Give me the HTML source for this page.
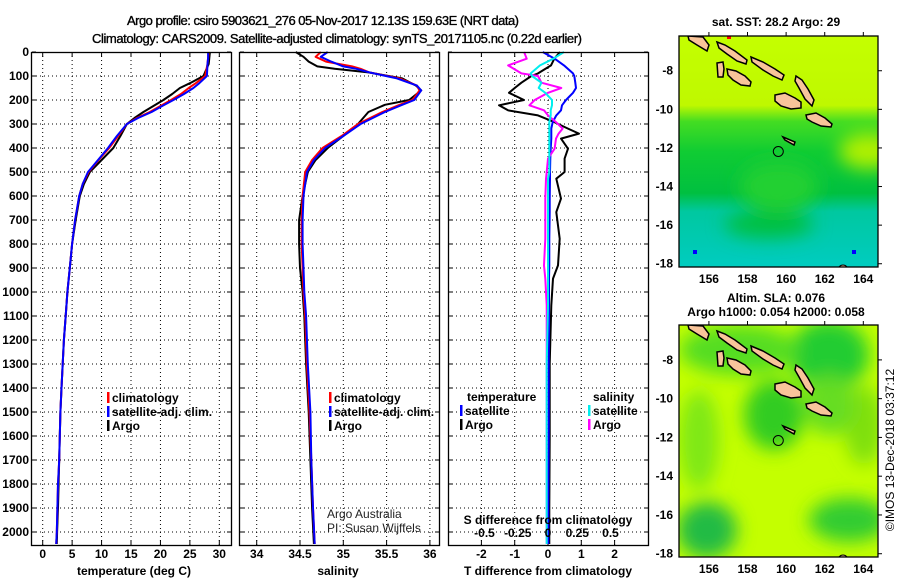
<!DOCTYPE html>
<html><head><meta charset="utf-8"><style>
body{margin:0;background:#fff;}
svg{display:block;font-family:"Liberation Sans",sans-serif;}
.b{font-weight:bold;font-size:12px;}
.tt{font-size:13px;stroke:#000;stroke-width:0.35;}
</style></head><body>
<svg id="c" width="900" height="580" viewBox="0 0 900 580">
<defs>
<linearGradient id="sstg" x1="0" y1="0" x2="0" y2="1">
<stop offset="0" stop-color="#c4ff00"/><stop offset="0.3" stop-color="#bff800"/>
<stop offset="0.37" stop-color="#44dd22"/><stop offset="0.5" stop-color="#10cc33"/>
<stop offset="0.68" stop-color="#00c040"/><stop offset="0.76" stop-color="#00c8a0"/>
<stop offset="1" stop-color="#00ccc0"/></linearGradient>
<filter id="bl" x="-50%" y="-50%" width="200%" height="200%"><feGaussianBlur stdDeviation="9"/></filter>
<clipPath id="m1c"><rect x="679" y="36" width="199" height="231"/></clipPath>
<clipPath id="m2c"><rect x="679" y="325" width="199" height="232"/></clipPath>
</defs>
<text x="323" y="25" text-anchor="middle" class="tt" textLength="392">Argo profile: csiro 5903621_276 05-Nov-2017 12.13S 159.63E (NRT data)</text>
<text x="337" y="43" text-anchor="middle" class="tt" textLength="490">Climatology: CARS2009. Satellite-adjusted climatology: synTS_20171105.nc (0.22d earlier)</text>
<g id="g"></g>
</svg>
<script>
// ---- data ----
const tDepth = [0,25,50,100,130,150,175,200,225,250,275,300,350,400,450,500,550,600,700,800,900,1000,1100,1200,1300,1400,1500,1600,1700,1800,1900,2000,2050];
const tArgo  = [28.4,28.3,28.2,27.3,25.0,23.3,22.0,20.5,18.8,17.1,15.6,14.3,13.2,12.0,10.0,8.0,7.0,6.3,5.6,5.0,4.6,4.2,3.9,3.6,3.4,3.2,3.0,2.9,2.8,2.7,2.6,2.45,2.4];
const tClim  = [28.2,28.1,28.0,27.6,26.0,24.8,23.5,21.8,20.0,18.2,16.0,14.3,12.8,11.3,9.5,7.8,6.8,6.2,5.5,5.0,4.6,4.2,3.9,3.6,3.4,3.2,3.0,2.9,2.8,2.6,2.5,2.4,2.3];
const tSat   = [28.1,28.1,28.0,27.9,26.6,25.6,24.0,22.2,20.3,18.5,16.2,14.3,12.6,11.1,9.4,7.7,6.8,6.2,5.5,5.0,4.6,4.2,3.9,3.6,3.4,3.2,3.0,2.9,2.8,2.6,2.5,2.4,2.3];
const sDepth = [0,20,40,60,70,85,110,140,160,200,220,250,300,350,400,450,500,600,700,800,900,1000,1100,1300,1500,1700,1900,2050];
const sArgo  = [34.45,34.54,34.6,34.7,34.9,35.29,35.68,35.84,35.9,35.76,35.48,35.29,35.17,35.0,34.82,34.68,34.59,34.53,34.49,34.49,34.5,34.53,34.55,34.57,34.6,34.62,34.64,34.66];
const sClim  = [34.74,34.68,34.8,35.1,35.2,35.3,35.65,35.85,35.88,35.8,35.65,35.45,35.17,34.98,34.76,34.64,34.56,34.53,34.52,34.52,34.53,34.54,34.56,34.58,34.61,34.63,34.65,34.67];
const sSat   = [34.82,34.74,34.86,35.0,35.15,35.3,35.62,35.85,35.9,35.82,35.68,35.48,35.2,35.0,34.79,34.66,34.58,34.54,34.53,34.53,34.54,34.55,34.57,34.59,34.62,34.63,34.65,34.67];
const dDepth = [0,28,56,89,100,128,150,170,200,222,243,264,292,319,340,361,403,444,500,528,611,667,778,889,944,1056,1300,1600,1900,2050];
const dTArgo = [0.36,0.19,0.09,-0.3,-0.5,-0.8,-1.0,-1.17,-0.72,-1.47,-1.2,-0.3,0.19,0.6,0.93,0.39,0.6,0.5,0.5,0.25,0.39,0.25,0.35,0.3,0.15,0.1,0.05,0.05,0.04,0.04];
const dTSat  = [-0.16,0.2,0.48,0.75,0.79,0.82,0.84,0.75,0.54,0.42,0.39,0.25,0.14,0.1,0.1,0.1,0.08,0.07,0.06,0.06,0.05,0.05,0.04,0.04,0.03,0.03,0.02,0.02,0.01,0.01];
const dSArgo = [-0.18,-0.16,-0.3,-0.2,-0.075,-0.05,0.1,0.0,-0.1,-0.14,-0.03,0.0,0.06,0.11,0.08,0.06,0.05,0.0,-0.01,-0.015,-0.02,-0.02,-0.02,-0.03,-0.02,-0.01,-0.01,-0.01,-0.01,-0.01];
const dSSat  = [0.12,0.04,-0.06,-0.13,-0.12,-0.05,-0.07,-0.02,0.03,0.03,0.02,0.02,0.01,0.01,0.01,0.01,0.01,0.01,0.01,0.0,0.0,0.0,0.0,0.0,0.0,0.0,-0.01,-0.01,-0.01,-0.01];
const depthTicks = [0,100,200,300,400,500,600,700,800,900,1000,1100,1200,1300,1400,1500,1600,1700,1800,1900,2000];
const tTicks = [0,5,10,15,20,25,30];
const sTicks = [34,34.5,35,35.5,36];
const dTTicks = [-2,-1,0,1,2];
const dSTicks = [-0.5,-0.25,0,0.25,0.5];
const lonTicks = [156,158,160,162,164];
const latTicks = [-8,-10,-12,-14,-16,-18];

const NS='http://www.w3.org/2000/svg';
const G=document.getElementById('g');
function el(t,a,p){const e=document.createElementNS(NS,t);for(const k in a)e.setAttribute(k,a[k]);(p||G).appendChild(e);return e;}
function txt(x,y,s,a,p){const e=el('text',Object.assign({x:x,y:y},a||{}),p);e.textContent=s;return e;}
const yD=d=>52+d*0.24;
const xT=v=>42.7+v*5.887;
const xS=v=>256.7+(v-34)*86.6;
const xDT=v=>548+v*33.3;
const xDS=v=>548+v*133;
const PB=545;

function panel(name,x0,x1,xs,ticks,grid){
  const g=el('g',{});
  
  
  depthTicks.forEach(d=>{if(d>0){const l=el('line',{x1:x0,x2:x1,y1:yD(d),y2:yD(d),stroke:'#000','stroke-width':1,'stroke-dasharray':'1,3'},g);
    }
    el('line',{x1:x0,x2:x0+4,y1:yD(d),y2:yD(d),stroke:'#000'},g);el('line',{x1:x1-4,x2:x1,y1:yD(d),y2:yD(d),stroke:'#000'},g);});
  grid.forEach(v=>{const X=xs(v);const l=el('line',{x1:X,x2:X,y1:52,y2:PB,stroke:'#000','stroke-dasharray':'1,3'},g);
    
    el('line',{x1:X,x2:X,y1:52,y2:57,stroke:'#000'},g);el('line',{x1:X,x2:X,y1:PB-5,y2:PB,stroke:'#000'},g);});
  return g;
}
function frame(name,x0,x1){const r=el('rect',{x:x0+0.5,y:52.5,width:x1-x0,height:PB-52,fill:'none',stroke:'#000','stroke-width':1.3});
  }
function line(name,ds,vs,xs,col,w){const pts=ds.map((d,i)=>xs(vs[i]).toFixed(1)+','+yD(d).toFixed(1)).join(' ');
  const p=el('polyline',{points:pts,fill:'none',stroke:col,'stroke-width':w||2,'stroke-linejoin':'round'});
  }
function legend(x,y,col,label,name){const r=el('rect',{x:x,y:y-10,width:2.5,height:11,fill:col});
  
  const t=txt(x+5,y,label,{class:'b'});}

depthTicks.forEach(d=>{const t=txt(29,yD(d)+4,String(d),{class:'b','text-anchor':'end'});
  });

panel('temperature-panel',32,231,xT,tTicks,[0,5,10,15,20,25,30]);
line('temp-argo-line',tDepth,tArgo,xT,'#000');
line('temp-climatology-line',tDepth,tClim,xT,'#f00');
line('temp-satellite-line',tDepth,tSat,xT,'#00f');
frame('temperature-frame',31,231);
tTicks.forEach(v=>{const t=txt(xT(v),558,String(v),{class:'b','text-anchor':'middle'});});
(function(){const t=txt(134,575,'temperature (deg C)',{class:'b','text-anchor':'middle'});})();
legend(107,402,'#f00','climatology','legend-climatology');
legend(107,416,'#00f','satellite-adj. clim.','legend-satellite-adj');
legend(107,430,'#000','Argo','legend-argo');

panel('salinity-panel',240,439,xS,sTicks,sTicks);
line('sal-argo-line',sDepth,sArgo,xS,'#000');
line('sal-climatology-line',sDepth,sClim,xS,'#f00');
line('sal-satellite-line',sDepth,sSat,xS,'#00f');
frame('salinity-frame',239,439);
sTicks.forEach(v=>{const t=txt(xS(v),558,String(v),{class:'b','text-anchor':'middle'});});
(function(){const t=txt(338,575,'salinity',{class:'b','text-anchor':'middle'});})();
legend(329,402,'#f00','climatology','legend-climatology-2');
legend(329,416,'#00f','satellite-adj. clim.','legend-satellite-adj-2');
legend(329,430,'#000','Argo','legend-argo-2');
(function(){let t=txt(327,518,'Argo Australia',{'font-size':12,fill:'#222'});
 t=txt(327,532,'PI: Susan Wijffels',{'font-size':12,fill:'#222'});})();

panel('difference-panel',448,648,xDT,dTTicks,dTTicks);
line('dt-argo-line',dDepth,dTArgo,xDT,'#000');
line('dt-satellite-line',dDepth,dTSat,xDT,'#00f');
line('ds-argo-line',dDepth,dSArgo,xDS,'#f0f');
line('ds-satellite-line',dDepth,dSSat,xDS,'#0ee');
frame('difference-frame',448,648);
dTTicks.forEach(v=>{const t=txt(xDT(v),558,String(v),{class:'b','text-anchor':'middle'});});
dSTicks.forEach(v=>{const t=txt(xDS(v)+(v<0?3:v>0?-4:0),537,(v<0?'-':'')+String(Math.abs(v)),{class:'b','text-anchor':'middle'});});
(function(){let t=txt(548,524,'S difference from climatology',{class:'b','text-anchor':'middle'});
 t=txt(548,575,'T difference from climatology',{class:'b','text-anchor':'middle'});
 t=txt(467,401,'temperature',{class:'b'});
 t=txt(593,401,'salinity',{class:'b'});})();
legend(460,415,'#00f','satellite','legend-t-satellite');
legend(460,429,'#000','Argo','legend-t-argo');
legend(588,415,'#0ee','satellite','legend-s-satellite');
legend(588,429,'#f0f','Argo','legend-s-argo');

const islands=[
 [[9,0],[24,1],[30,9],[28,15],[18,9],[10,4]],
 [[38,6],[46,9],[56,15],[68,24],[67,28],[58,25],[48,18],[40,12]],
 [[72,21],[84,26],[96,33],[105,39],[103,44],[94,40],[84,34],[73,26]],
 [[48,33],[57,35],[66,40],[72,46],[71,50],[62,49],[54,44],[49,39]],
 [[38,27],[44,26],[45,33],[44,41],[39,41]],
 [[117,40],[123,44],[129,53],[135,64],[133,70],[126,63],[120,52],[116,45]],
 [[96,59],[106,57],[116,62],[122,66],[122,72],[112,73],[102,70],[96,65]],
 [[127,79],[137,77],[146,82],[153,88],[152,91],[142,90],[133,86],[128,83]],
 [[104,101],[116,106],[115,109],[106,104]]];
function map(name,x0,y0,h,kind){
  const W=199;const g=el('g',{'clip-path':'url(#'+(kind==1?'m1c':'m2c')+')'});
  
  if(kind==1){el('rect',{x:x0,y:y0,width:W,height:h,fill:'url(#sstg)'},g);
    const b=el('g',{filter:'url(#bl)'},g);
    el('ellipse',{cx:x0+100,cy:y0+150,rx:40,ry:25,fill:'#20d030'},b);
    el('ellipse',{cx:x0+190,cy:y0+115,rx:30,ry:18,fill:'#b0f000'},b);
    el('ellipse',{cx:x0+90,cy:y0+188,rx:45,ry:14,fill:'#00c040'},b);
    el('rect',{x:x0+14,y:y0+214,width:4,height:4,fill:'#00f'},g);el('rect',{x:x0+173,y:y0+214,width:4,height:4,fill:'#00f'},g);
    el('rect',{x:x0+48,y:y0,width:4,height:3,fill:'#f00'},g);
  } else {el('rect',{x:x0,y:y0,width:W,height:h,fill:'#c4ff00'},g);
    const b=el('g',{filter:'url(#bl)'},g);
    [[150,30,40,35,'#22cc33'],[95,90,30,35,'#33cc22'],[60,25,60,25,'#55dd22'],[20,115,20,50,'#7fe815'],[28,205,30,28,'#22bb44'],[170,195,40,22,'#33cc33'],[185,100,20,40,'#7fe010'],[150,80,25,30,'#66dd22']]
     .forEach(c=>el('ellipse',{cx:x0+c[0],cy:y0+c[1],rx:c[2],ry:c[3],fill:c[4]},b));}
  islands.forEach(p=>{const q=el('polygon',{points:p.map(v=>(x0+v[0])+','+(y0+v[1])).join(' '),fill:'#f8c49a',stroke:'#000','stroke-width':1.5},g);
    });
  const c=el('circle',{cx:x0+99.3,cy:y0+115.5,r:5,fill:'none',stroke:'#000','stroke-width':1},g);
  
  el('circle',{cx:x0+164,cy:y0+h+3,r:5,fill:'#f8c49a',stroke:'#000'},g);
  const f=el('rect',{x:x0,y:y0,width:W,height:h,fill:'none',stroke:'#000','stroke-width':1.3});
  
  const xl=v=>x0+(v-154.45)*19.3;const yl=v=>y0+(-6.2-v)*19.3*(h/231);
  lonTicks.forEach(v=>{el('line',{x1:xl(v),x2:xl(v),y1:y0,y2:y0-4,stroke:'#000'});
    const t=txt(xl(v),y0+h+16,String(v),{class:'b','text-anchor':'middle'});});
  latTicks.forEach(v=>{el('line',{x1:x0+W,x2:x0+W+4,y1:yl(v),y2:yl(v),stroke:'#000'});
    const t=txt(673,yl(v)+4,String(v),{class:'b','text-anchor':'end'});});
}
map('sst-map',679,36,231,1);
map('sla-map',679,325,232,2);
(function(){let t=txt(776,26,'sat. SST: 28.2 Argo: 29',{class:'b','text-anchor':'middle'});
 t=txt(776,302,'Altim. SLA: 0.076',{class:'b','text-anchor':'middle'});
 t=txt(776,316,'Argo h1000: 0.054 h2000: 0.058',{class:'b','text-anchor':'middle'});
 t=txt(0,0,'©IMOS 13-Dec-2018 03:37:12',{'font-size':12,'text-anchor':'middle',transform:'translate(894,450) rotate(-90)'});})();
</script>
</body></html>
